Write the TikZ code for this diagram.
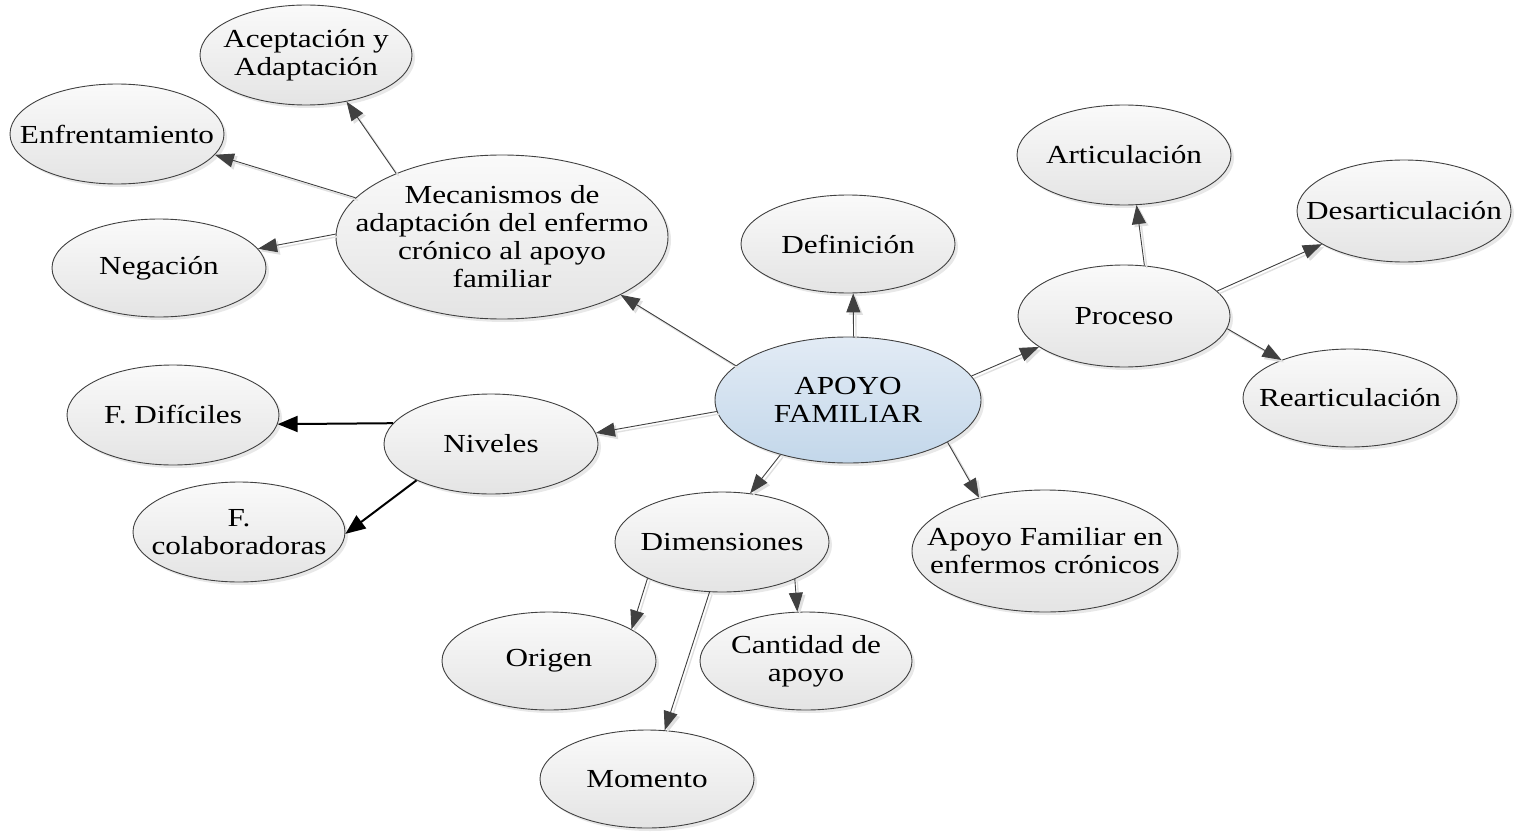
\documentclass[tikz,border=0pt]{standalone}
\usepackage{fontspec}
\setmainfont{Liberation Serif}[FakeStretch=1.2]
\usetikzlibrary{shapes.geometric,arrows.meta,shadows}

\definecolor{rim}{HTML}{404040}
\definecolor{bubtop}{HTML}{FAFAFA}
\definecolor{bubbot}{HTML}{E4E4E4}
\definecolor{coretop}{HTML}{E2EBF5}
\definecolor{corebot}{HTML}{C3D7EA}

\tikzset{
  bub/.style 2 args={ellipse, draw=rim, line width=0.9pt,
    minimum width=#1pt, minimum height=#2pt, inner sep=0pt,
    top color=bubtop, bottom color=bubbot,
    drop shadow={opacity=0.18, shadow xshift=3pt, shadow yshift=-3pt}},
  core/.style={top color=coretop, bottom color=corebot},
  txt/.style={align=center, inner sep=0pt,
    font=\fontsize{26}{28}\selectfont},
  con/.style={draw=rim, line width=0.9pt,
    -{Triangle[length=19pt,width=14pt]},
    preaction={draw=black!12, line width=1.4pt,
      transform canvas={xshift=2.5pt,yshift=-2.5pt}}},
  bold/.style={draw=black, line width=2pt,
    -{Triangle[length=20pt,width=16pt]}},
}

\begin{document}
\begin{tikzpicture}[x=1pt,y=-1pt]
\useasboundingbox (0,0) rectangle (1520,832);

% bubbles
\node[bub={212}{100}, label={[txt]center:{Aceptación y\\Adaptación}}] (acep) at (306,55) {};
\node[bub={214}{100}, label={[txt]center:{Enfrentamiento}}] (enf) at (117,134) {};
\node[bub={214}{98}, label={[txt]center:{Negación}}] (neg) at (159,268) {};
\node[bub={332}{164}, label={[txt]center:{Mecanismos de\\adaptación del enfermo\\crónico al apoyo\\familiar}}] (mec) at (502,237) {};
\node[bub={214}{98}, label={[txt]center:{Definición}}] (def) at (848,244) {};
\node[bub={214}{100}, label={[txt]center:{Articulación}}] (art) at (1124,155) {};
\node[bub={214}{102}, label={[txt]center:{Desarticulación}}] (desart) at (1404,211) {};
\node[bub={212}{102}, label={[txt]center:{Proceso}}] (proc) at (1124,316) {};
\node[bub={214}{98}, label={[txt]center:{Rearticulación}}] (reart) at (1350,398) {};
\node[bub={266}{126}, core, label={[txt]center:{APOYO\\FAMILIAR}}] (apoyo) at (848,400) {};
\node[bub={212}{100}, label={[txt]center:{F. Difíciles}}] (fdif) at (173,415) {};
\node[bub={214}{100}, label={[txt]center:{Niveles}}] (niv) at (491,444) {};
\node[bub={212}{100}, label={[txt]center:{F.\\colaboradoras}}] (fcol) at (239,532) {};
\node[bub={214}{100}, label={[txt]center:{Dimensiones}}] (dim) at (722,542) {};
\node[bub={266}{122}, label={[txt]center:{Apoyo Familiar en\\enfermos crónicos}}] (afen) at (1045,551) {};
\node[bub={214}{98}, label={[txt]center:{Origen}}] (orig) at (549,661) {};
\node[bub={212}{98}, label={[txt]center:{Cantidad de\\apoyo}}] (cant) at (806,661) {};
\node[bub={214}{98}, label={[txt]center:{Momento}}] (mom) at (647,779) {};

% connectors from the core
\draw[con] (apoyo.163.1) -- (mec.-26.6);
\draw[con] (apoyo.85.5) -- (def.-84.2);
\draw[con] (apoyo.11.1) -- (proc.200.9);
\draw[con] (apoyo.185.6) -- (niv.6.5);
\draw[con] (apoyo.219) -- (dim.60.5);
\draw[con] (apoyo.-23.2) -- (afen.141.8);

% adaptation mechanisms
\draw[con] (mec.149.6) -- (acep.-49.4);
\draw[con] (mec.165.1) -- (enf.-12.4);
\draw[con] (mec.179.7) -- (neg.11.9);

% process
\draw[con] (proc.68.2) -- (art.-76.2);
\draw[con] (proc.15.6) -- (desart.202.5);
\draw[con] (proc.-7.1) -- (reart.151.5);

% levels
\draw[bold] (niv.168.5) -- (fdif.-5);
\draw[bold] (niv.206.3) -- (fcol.-1.6);

% dimensions
\draw[con] (dim.206.9) -- (orig.21.7);
\draw[con] (dim.256.2) -- (mom.70.9);
\draw[con] (dim.-27.8) -- (cant.100.4);
\end{tikzpicture}
\end{document}
